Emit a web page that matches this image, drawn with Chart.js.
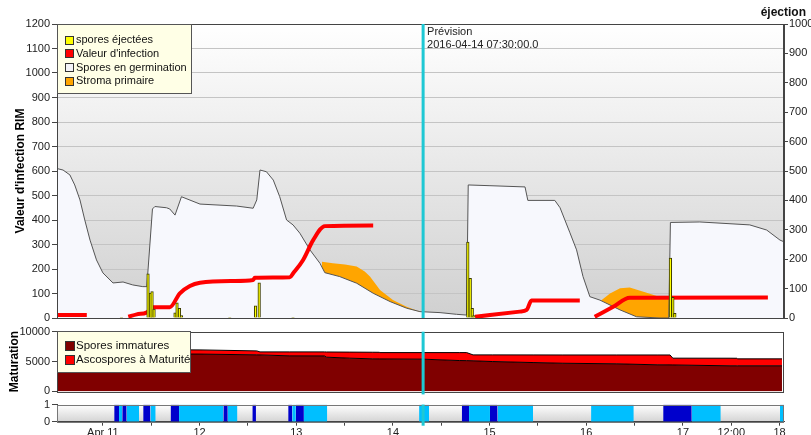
<!DOCTYPE html>
<html><head><meta charset="utf-8">
<script src="https://cdn.jsdelivr.net/npm/chart.js@4.4.1/dist/chart.umd.min.js"></script>
<style>
html,body{margin:0;padding:0;background:#fff;width:811px;height:435px;overflow:hidden;}
canvas{position:absolute;left:0;}
</style></head><body>
<canvas id="c1" width="811" height="330" style="top:0px"></canvas>
<canvas id="c2" width="811" height="78" style="top:322px"></canvas>
<canvas id="c3" width="811" height="45" style="top:396px"></canvas>
<script>
// x values are hours since 2016-04-11 00:00
const X_MIN = -11.4, X_MAX = 169.1;
const PREVISION_HOUR = 79.5; // 2016-04-14 07:30
const previsionText = ['Prévision', '2016-04-14 07:30:00.0'];
const rightAxisTitle = 'éjection';

const germTimes  = [-11.4,-9.9,-8.2,-7.0,-5.7,-4.5,-3.2,-1.6,0,2.5,5.0,7.4,9.9,10.9,12.3,12.9,15.8,16.6,17.9,19.5,24.1,33.2,37.3,38.2,39.0,40.6,42.3,43.9,45.6,47.2,48.9,51.4,53.9,55.1,58.8,63.0,67.1,71.3,75.4,78.7,83.7,87.8,90.3,90.7,96.1,104.8,105.5,112.2,113.5,115.9,117.6,119.2,120.9,123.4,128.4,132.5,138.3,140.5,140.9,148.2,160.6,164.8,168.1,169.1];
const germValues = [610,604,584,543,482,400,318,237,184,143,147,135,128,128,445,455,450,445,420,495,465,457,448,482,604,597,563,495,400,380,346,278,223,185,169,142,101,67,40,26,22,15,12,543,540,535,480,480,450,350,278,169,87,73,33,5,0,0,390,392,380,359,318,311];

const infectionTimes  = [-11.4,-4.0,-3.9,6.3,8.4,10.8,12.5,16.6,19.1,21.6,24.1,32.3,37.3,37.7,46.4,47.2,49.7,52.2,55.1,67.1,67.2,92.4,103.5,105.2,106.4,118.4,118.5,122.1,126.7,130.8,165.1];
const infectionValues = [12,12,null,5,15,22,44,44,101,131,144,151,155,164,166,182,237,318,375,378,null,5,26,33,71,71,null,5,46,83,84];

const stromaTimes  = [54.3,54.4,57.1,60.1,63.0,65.0,66.3,68.8,72.0,75.4,78.7,79.0,123.4,123.6,125.9,128.4,130.8,135.0,137.5,140.0,140.8,141.0];
const stromaValues = [0,230,223,218,210,190,169,114,73,46,26,0,0,70,100,121,125,103,90,87,85,0];

const ejectTimes  = [4.6,11.2,11.8,12.2,12.7,17.9,18.4,19.0,19.5,31.5,37.9,38.8,47.2,90.6,91.2,91.7,92.1,140.9,141.5,142.0];
const ejectValues = [2,150,85,90,30,18,52,33,8,2,41,120,2,258,135,33,8,204,70,16];

const matTimes       = [-11.4,24.1,38.2,39.0,46.4,55.0,55.5,61.3,67.0,68.6,68.8,79.4,88.6,90.3,91.9,96.8,106.8,114.2,127.6,137.8,140.8,141.5,155.7,157.4,157.6,168.6];
const immatureValues = [6300,6250,6120,6110,5950,5940,5733,5567,5450,5440,5440,5400,5167,5150,5120,5000,4833,4717,4617,4450,4440,4430,4283,4283,4283,4283];
const matureValues   = [750,700,663,507,667,677,867,1013,1110,1110,1060,1100,1333,1350,997,1117,1277,1383,1483,1650,1660,1137,1277,1267,1167,1167];

const stripDark  = [[2.8,4.0],[4.8,5.9],[10.0,11.8],[16.8,18.9],[29.9,31.0],[37.1,38.0],[46.0,47.0],[47.9,49.9],[89.1,90.9],[96.1,98.0],[139.1,146.2]];
const stripLight = [[4.0,4.8],[5.9,9.0],[11.8,13.1],[18.9,29.9],[31.0,33.4],[47.0,47.9],[49.9,55.7],[78.5,81.0],[90.9,96.1],[98.0,106.8],[121.2,131.8],[146.2,153.4],[168.1,169.1]];

const xTickHours  = [0,12,24,36,48,60,72,84,96,108,120,132,144,156,168];
const xTickLabels = ['Apr 11','','12','','13','','14','','15','','16','','17','12:00','18'];
const infTicks = [0,100,200,300,400,500,600,700,800,900,1000,1100,1200];
const ejectTicks = [0,100,200,300,400,500,600,700,800,900,1000];
const matTicks = [0,5000,10000];
const stripTicks = [0,1];

const FONT = "'Liberation Sans', Arial, sans-serif";
Chart.defaults.font.family = FONT;
Chart.defaults.font.size = 11;
Chart.defaults.color = '#222';
Chart.defaults.animation = false;

const pts = (xs, ys) => xs.map((x, i) => ({x, y: ys[i]}));
const segPts = segs => { const a = []; segs.forEach(([s, e]) => { a.push({x:s,y:1},{x:e,y:1},{x:e,y:null}); }); return a; };
const ticksFrom = arr => s => { s.ticks = arr.map(v => ({value: v})); };
const plain = v => String(v);

const LEFT_W = 57, RIGHT_W = 27;

function bgPlugin(top, bottom) {
  return { id: 'bg', beforeDraw(chart) {
    const {ctx, chartArea: a} = chart;
    const g = ctx.createLinearGradient(0, a.top, 0, a.bottom);
    g.addColorStop(0, top); g.addColorStop(1, bottom);
    ctx.save(); ctx.fillStyle = g; ctx.fillRect(a.left, a.top, a.right - a.left, a.bottom - a.top); ctx.restore();
  }};
}
function boxPlugin(color) {
  return { id: 'box', afterDatasetsDraw(chart) {
    const {ctx, chartArea: a} = chart;
    ctx.save(); ctx.strokeStyle = color; ctx.lineWidth = 1;
    ctx.strokeRect(Math.round(a.left) + 0.5, Math.round(a.top) + 0.5, Math.round(a.right - a.left) - 1, Math.round(a.bottom - a.top));
    ctx.restore();
  }};
}
function prevPlugin(ext) {
  return { id: 'prev', afterDatasetsDraw(chart) {
    const {ctx, chartArea: a, scales} = chart;
    const x = scales.x.getPixelForValue(PREVISION_HOUR);
    ctx.save(); ctx.strokeStyle = '#1ec8d4'; ctx.lineWidth = 3;
    ctx.beginPath(); ctx.moveTo(x, a.top); ctx.lineTo(x, a.bottom + ext); ctx.stroke(); ctx.restore();
  }};
}
function legendPlugin(box, items, font, rowY, rowH, sq) {
  return { id: 'lg', afterDraw(chart) {
    const ctx = chart.ctx;
    ctx.save();
    ctx.fillStyle = '#ffffe6'; ctx.fillRect(box[0], box[1], box[2], box[3]);
    ctx.strokeStyle = '#555'; ctx.lineWidth = 1; ctx.strokeRect(box[0], box[1], box[2], box[3]);
    ctx.font = font; ctx.textBaseline = 'middle'; ctx.textAlign = 'left';
    items.forEach((it, i) => {
      const y = rowY + i * rowH;
      ctx.fillStyle = it.color; ctx.fillRect(65.5, Math.round(y - sq/2) + 0.5, sq, sq);
      ctx.strokeStyle = '#333'; ctx.strokeRect(65.5, Math.round(y - sq/2) + 0.5, sq, sq);
      ctx.fillStyle = '#111'; ctx.fillText(chart.data.datasets[it.ds].label, 76, y + 0.5);
    });
    ctx.restore();
  }};
}
const textPlugin = { id: 'txt', afterDraw(chart) {
  const {ctx, scales} = chart;
  const x = scales.x.getPixelForValue(PREVISION_HOUR);
  ctx.save();
  ctx.font = '11px ' + FONT; ctx.fillStyle = '#222'; ctx.textBaseline = 'middle'; ctx.textAlign = 'left';
  ctx.fillText(previsionText[0], x + 4, 32);
  ctx.fillText(previsionText[1], x + 4, 45);
  ctx.font = 'bold 12px ' + FONT; ctx.fillStyle = '#111'; ctx.textAlign = 'right';
  ctx.fillText(rightAxisTitle, 806, 13);
  ctx.restore();
}};

// ---------- main chart ----------
new Chart(document.getElementById('c1'), {
  type: 'line',
  data: { datasets: [
    { type: 'bar', label: 'spores éjectées', data: pts(ejectTimes, ejectValues), yAxisID: 'y1',
      backgroundColor: '#ffff00', borderColor: '#3a3a00', borderWidth: 1, barThickness: 2.6, order: 0 },
    { label: "Valeur d'infection", data: pts(infectionTimes, infectionValues), yAxisID: 'y',
      borderColor: '#ff0000', borderWidth: 4, pointRadius: 0, spanGaps: false, fill: false,
      borderCapStyle: 'butt', borderJoinStyle: 'round', cubicInterpolationMode: 'monotone', order: 1 },
    { label: 'Spores en germination', data: pts(germTimes, germValues), yAxisID: 'y',
      borderColor: '#555', borderWidth: 1, backgroundColor: '#f7f8fd', fill: 'origin', pointRadius: 0, order: 2 },
    { label: 'Stroma primaire', data: pts(stromaTimes, stromaValues), yAxisID: 'y',
      borderWidth: 0, borderColor: 'rgba(0,0,0,0)', backgroundColor: '#ffa500', fill: 'origin', pointRadius: 0, order: 3 }
  ]},
  options: {
    responsive: false, animation: false,
    layout: { padding: { top: 24, bottom: 12, left: 0, right: 0 } },
    plugins: { legend: { display: false }, tooltip: { enabled: false } },
    scales: {
      x: { type: 'linear', min: X_MIN, max: X_MAX, display: false, offset: false, grid: { offset: false } },
      y: { position: 'left', min: 0, max: 1200, afterBuildTicks: ticksFrom(infTicks),
           ticks: { padding: 2, callback: plain }, grid: { color: '#c4c4c4', tickLength: 5, tickColor: '#444' },
           border: { color: '#444' },
           title: { display: true, text: "Valeur d'infection RIM", color: '#000', font: { weight: 'bold', size: 12 }, padding: { top: 13, bottom: 0 } },
           afterFit(s) { s.width = LEFT_W; } },
      y1: { position: 'right', min: 0, max: 1000, afterBuildTicks: ticksFrom(ejectTicks),
            ticks: { padding: 1, callback: plain }, grid: { drawOnChartArea: false, tickLength: 4, tickColor: '#444' },
            border: { color: '#444' }, afterFit(s) { s.width = RIGHT_W; } }
    }
  },
  plugins: [bgPlugin('#ffffff', '#d0d0d0'), boxPlugin('#444'), prevPlugin(0), textPlugin,
    legendPlugin([57.5, 24.5, 134, 69], [{ds:0,color:'#ffff00'},{ds:1,color:'#ff0000'},{ds:2,color:'#f3f3f8'},{ds:3,color:'#ffa500'}],
      '11px ' + FONT, 39.5, 13.8, 8)]
});

// ---------- maturation ----------
new Chart(document.getElementById('c2'), {
  type: 'line',
  data: { datasets: [
    { label: 'Spores immatures', data: pts(matTimes, immatureValues), borderColor: '#000', borderWidth: 1,
      backgroundColor: '#800000', fill: 'origin', pointRadius: 0, stack: 'm' },
    { label: 'Ascospores à Maturité', data: pts(matTimes, matureValues), borderColor: '#000', borderWidth: 1,
      backgroundColor: '#ff0000', fill: '-1', pointRadius: 0, stack: 'm' }
  ]},
  options: {
    responsive: false, animation: false,
    layout: { padding: { top: 9.7, bottom: 8.3, left: 0, right: RIGHT_W } },
    plugins: { legend: { display: false }, tooltip: { enabled: false } },
    scales: {
      x: { type: 'linear', min: X_MIN, max: X_MAX, display: false },
      y: { stacked: true, min: 0, max: 10000, afterBuildTicks: ticksFrom(matTicks),
           ticks: { padding: 2, callback: plain }, grid: { drawOnChartArea: false, tickLength: 5, tickColor: '#444' },
           border: { color: '#444' },
           title: { display: true, text: 'Maturation', color: '#000', font: { weight: 'bold', size: 12 }, padding: { top: 7, bottom: 0 } },
           afterFit(s) { s.width = LEFT_W; } }
    }
  },
  plugins: [bgPlugin('#ffffff', '#ffffff'), boxPlugin('#444'), prevPlugin(3),
    legendPlugin([57.5, 9.5, 133, 41], [{ds:0,color:'#800000'},{ds:1,color:'#ff0000'}],
      '11.5px ' + FONT, 23, 14, 9)]
});

// ---------- strip ----------
new Chart(document.getElementById('c3'), {
  type: 'line',
  data: { datasets: [
    { label: 'dark', data: segPts(stripDark), borderWidth: 0, borderColor: 'rgba(0,0,0,0)', backgroundColor: '#0000cc', fill: 'origin', pointRadius: 0, spanGaps: false },
    { label: 'light', data: segPts(stripLight), borderWidth: 0, borderColor: 'rgba(0,0,0,0)', backgroundColor: '#00bfff', fill: 'origin', pointRadius: 0, spanGaps: false }
  ]},
  options: {
    responsive: false, animation: false,
    layout: { padding: { top: 8.3, bottom: 0, left: 0, right: RIGHT_W } },
    plugins: { legend: { display: false }, tooltip: { enabled: false } },
    scales: {
      x: { type: 'linear', min: X_MIN, max: X_MAX, offset: false, afterBuildTicks: ticksFrom(xTickHours),
           ticks: { autoSkip: false, maxRotation: 0, padding: 1, callback: (v, i) => xTickLabels[i] },
           grid: { drawOnChartArea: false, tickLength: 4, tickColor: '#444' }, border: { color: '#444' },
           afterFit(s) { s.height = 19.3; } },
      y: { min: 0, max: 1, afterBuildTicks: ticksFrom(stripTicks),
           ticks: { padding: 2, callback: plain }, grid: { drawOnChartArea: false, tickLength: 5, tickColor: '#444' },
           border: { color: '#444' }, afterFit(s) { s.width = LEFT_W; } }
    }
  },
  plugins: [bgPlugin('#ffffff', '#d4d4d4'), boxPlugin('#777'), prevPlugin(4)]
});
</script>
</body></html>
